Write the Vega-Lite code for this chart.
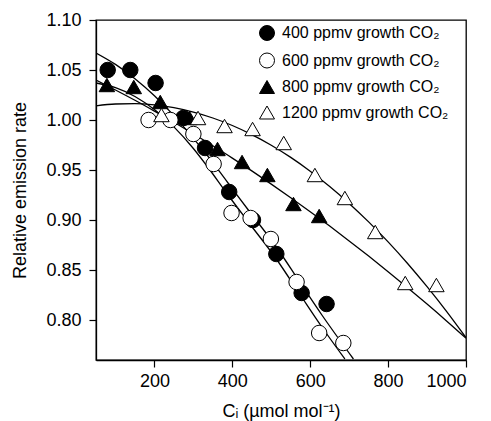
{
  "$schema": "https://vega.github.io/schema/vega-lite/v6.json",
  "width": 370,
  "height": 340,
  "autosize": "none",
  "padding": {"left": 96, "top": 20, "right": 25, "bottom": 61},
  "config": {
    "font": "Liberation Sans",
    "view": {"stroke": "black", "strokeWidth": 1.3},
    "axis": {"grid": false, "domainColor": "black", "domainWidth": 1.3, "tickColor": "black", "tickWidth": 1.2, "tickSize": 7, "labelColor": "black", "titleColor": "black", "labelFontSize": 18, "titleFontSize": 18, "titleFontWeight": "normal"},
    "legend": {"labelColor": "black"}
  },
  "datasets": {
    "points": [
      {"series": "400 ppmv growth CO₂", "ci": 80, "rate": 1.05},
      {"series": "400 ppmv growth CO₂", "ci": 138, "rate": 1.05},
      {"series": "400 ppmv growth CO₂", "ci": 203, "rate": 1.037},
      {"series": "400 ppmv growth CO₂", "ci": 274, "rate": 1.002},
      {"series": "400 ppmv growth CO₂", "ci": 330, "rate": 0.972},
      {"series": "400 ppmv growth CO₂", "ci": 392, "rate": 0.928},
      {"series": "400 ppmv growth CO₂", "ci": 453, "rate": 0.9},
      {"series": "400 ppmv growth CO₂", "ci": 513, "rate": 0.866},
      {"series": "400 ppmv growth CO₂", "ci": 578, "rate": 0.827},
      {"series": "400 ppmv growth CO₂", "ci": 642, "rate": 0.816},
      {"series": "600 ppmv growth CO₂", "ci": 185, "rate": 1.0},
      {"series": "600 ppmv growth CO₂", "ci": 241, "rate": 1.0},
      {"series": "600 ppmv growth CO₂", "ci": 300, "rate": 0.986},
      {"series": "600 ppmv growth CO₂", "ci": 352, "rate": 0.956},
      {"series": "600 ppmv growth CO₂", "ci": 398, "rate": 0.907},
      {"series": "600 ppmv growth CO₂", "ci": 447, "rate": 0.902},
      {"series": "600 ppmv growth CO₂", "ci": 499, "rate": 0.881},
      {"series": "600 ppmv growth CO₂", "ci": 565, "rate": 0.838},
      {"series": "600 ppmv growth CO₂", "ci": 623, "rate": 0.787},
      {"series": "600 ppmv growth CO₂", "ci": 685, "rate": 0.777},
      {"series": "800 ppmv growth CO₂", "ci": 78, "rate": 1.035},
      {"series": "800 ppmv growth CO₂", "ci": 147, "rate": 1.033},
      {"series": "800 ppmv growth CO₂", "ci": 215, "rate": 1.018},
      {"series": "800 ppmv growth CO₂", "ci": 290, "rate": 1.002},
      {"series": "800 ppmv growth CO₂", "ci": 362, "rate": 0.971},
      {"series": "800 ppmv growth CO₂", "ci": 425, "rate": 0.958},
      {"series": "800 ppmv growth CO₂", "ci": 490, "rate": 0.945},
      {"series": "800 ppmv growth CO₂", "ci": 557, "rate": 0.916},
      {"series": "800 ppmv growth CO₂", "ci": 623, "rate": 0.904},
      {"series": "1200 ppmv growth CO₂", "ci": 218, "rate": 1.005},
      {"series": "1200 ppmv growth CO₂", "ci": 312, "rate": 1.002},
      {"series": "1200 ppmv growth CO₂", "ci": 380, "rate": 0.994},
      {"series": "1200 ppmv growth CO₂", "ci": 452, "rate": 0.991},
      {"series": "1200 ppmv growth CO₂", "ci": 532, "rate": 0.977},
      {"series": "1200 ppmv growth CO₂", "ci": 612, "rate": 0.945},
      {"series": "1200 ppmv growth CO₂", "ci": 689, "rate": 0.922},
      {"series": "1200 ppmv growth CO₂", "ci": 767, "rate": 0.888},
      {"series": "1200 ppmv growth CO₂", "ci": 844, "rate": 0.837},
      {"series": "1200 ppmv growth CO₂", "ci": 924, "rate": 0.835}
    ],
    "curves": [
      {"curve": "400", "ci": 50, "rate": 1.067},
      {"curve": "400", "ci": 100, "rate": 1.0556},
      {"curve": "400", "ci": 150, "rate": 1.0413},
      {"curve": "400", "ci": 200, "rate": 1.0243},
      {"curve": "400", "ci": 250, "rate": 1.0044},
      {"curve": "400", "ci": 300, "rate": 0.9817},
      {"curve": "400", "ci": 333, "rate": 0.966},
      {"curve": "400", "ci": 389, "rate": 0.937},
      {"curve": "400", "ci": 445, "rate": 0.908},
      {"curve": "400", "ci": 513, "rate": 0.873},
      {"curve": "400", "ci": 573, "rate": 0.838},
      {"curve": "400", "ci": 630, "rate": 0.805},
      {"curve": "400", "ci": 711, "rate": 0.761},
      {"curve": "600", "ci": 50, "rate": 1.037},
      {"curve": "600", "ci": 100, "rate": 1.0324},
      {"curve": "600", "ci": 150, "rate": 1.0235},
      {"curve": "600", "ci": 200, "rate": 1.0104},
      {"curve": "600", "ci": 250, "rate": 0.9931},
      {"curve": "600", "ci": 300, "rate": 0.9715},
      {"curve": "600", "ci": 333, "rate": 0.955},
      {"curve": "600", "ci": 389, "rate": 0.925},
      {"curve": "600", "ci": 445, "rate": 0.896},
      {"curve": "600", "ci": 513, "rate": 0.861},
      {"curve": "600", "ci": 573, "rate": 0.826},
      {"curve": "600", "ci": 630, "rate": 0.793},
      {"curve": "600", "ci": 689, "rate": 0.761},
      {"curve": "800", "ci": 50, "rate": 1.04},
      {"curve": "800", "ci": 100, "rate": 1.03},
      {"curve": "800", "ci": 150, "rate": 1.0197},
      {"curve": "800", "ci": 200, "rate": 1.0089},
      {"curve": "800", "ci": 250, "rate": 0.9978},
      {"curve": "800", "ci": 300, "rate": 0.9862},
      {"curve": "800", "ci": 350, "rate": 0.9742},
      {"curve": "800", "ci": 400, "rate": 0.9619},
      {"curve": "800", "ci": 450, "rate": 0.9491},
      {"curve": "800", "ci": 500, "rate": 0.9359},
      {"curve": "800", "ci": 550, "rate": 0.9223},
      {"curve": "800", "ci": 600, "rate": 0.9083},
      {"curve": "800", "ci": 650, "rate": 0.8939},
      {"curve": "800", "ci": 700, "rate": 0.8791},
      {"curve": "800", "ci": 750, "rate": 0.8639},
      {"curve": "800", "ci": 800, "rate": 0.8483},
      {"curve": "800", "ci": 850, "rate": 0.8323},
      {"curve": "800", "ci": 900, "rate": 0.8159},
      {"curve": "800", "ci": 950, "rate": 0.7991},
      {"curve": "800", "ci": 1000, "rate": 0.7818},
      {"curve": "1200", "ci": 50, "rate": 1.0142},
      {"curve": "1200", "ci": 100, "rate": 1.016},
      {"curve": "1200", "ci": 150, "rate": 1.0164},
      {"curve": "1200", "ci": 200, "rate": 1.0151},
      {"curve": "1200", "ci": 250, "rate": 1.0123},
      {"curve": "1200", "ci": 300, "rate": 1.0079},
      {"curve": "1200", "ci": 350, "rate": 1.002},
      {"curve": "1200", "ci": 400, "rate": 0.9945},
      {"curve": "1200", "ci": 450, "rate": 0.9854},
      {"curve": "1200", "ci": 500, "rate": 0.9748},
      {"curve": "1200", "ci": 550, "rate": 0.9626},
      {"curve": "1200", "ci": 600, "rate": 0.9488},
      {"curve": "1200", "ci": 650, "rate": 0.9335},
      {"curve": "1200", "ci": 700, "rate": 0.9166},
      {"curve": "1200", "ci": 750, "rate": 0.8981},
      {"curve": "1200", "ci": 800, "rate": 0.8781},
      {"curve": "1200", "ci": 850, "rate": 0.8565},
      {"curve": "1200", "ci": 900, "rate": 0.8333},
      {"curve": "1200", "ci": 950, "rate": 0.8086},
      {"curve": "1200", "ci": 1000, "rate": 0.7823}
    ]
  },
  "layer": [
    {
      "data": {"name": "curves"},
      "mark": {"type": "line", "color": "black", "strokeWidth": 1.3, "interpolate": "monotone", "clip": true},
      "encoding": {
        "x": {"field": "ci", "type": "quantitative", "scale": {"domain": [50, 1000], "nice": false, "zero": false},
          "axis": {"values": [200, 400, 600, 800, 1000], "format": "d", "labelPadding": 5, "title": "Cᵢ (µmol mol⁻¹)", "titleBaseline": "alphabetic", "titleY": 56, "titleX": 185}},
        "y": {"field": "rate", "type": "quantitative", "scale": {"domain": [0.76, 1.1], "nice": false, "zero": false},
          "axis": {"values": [0.8, 0.85, 0.9, 0.95, 1.0, 1.05, 1.1], "format": ".2f", "labelPadding": 8, "title": "Relative emission rate", "titleX": -76, "titleY": 170, "titleAngle": -90, "titleBaseline": "middle", "titleAlign": "center"}},
        "detail": {"field": "curve"}
      }
    },
    {
      "data": {"name": "points"},
      "mark": {"type": "point", "strokeWidth": 1, "size": 240, "opacity": 1, "fillOpacity": 1, "strokeOpacity": 1},
      "encoding": {
        "x": {"field": "ci", "type": "quantitative"},
        "y": {"field": "rate", "type": "quantitative"},
        "shape": {"field": "series", "type": "nominal",
          "scale": {"domain": ["400 ppmv growth CO₂", "600 ppmv growth CO₂", "800 ppmv growth CO₂", "1200 ppmv growth CO₂"], "range": ["circle", "circle", "triangle-up", "triangle-up"]},
          "legend": {"title": null, "orient": "none", "legendX": 163, "legendY": 5, "labelFontSize": 16, "labelColor": "black", "labelLimit": 400, "symbolSize": 225, "symbolStrokeWidth": 1, "rowPadding": 7.5, "labelOffset": 7, "padding": 0}},
        "fill": {"field": "series", "type": "nominal",
          "scale": {"domain": ["400 ppmv growth CO₂", "600 ppmv growth CO₂", "800 ppmv growth CO₂", "1200 ppmv growth CO₂"], "range": ["black", "white", "black", "white"]},
          "legend": {"title": null, "orient": "none", "legendX": 163, "legendY": 5, "labelFontSize": 16, "labelColor": "black", "labelLimit": 400, "symbolSize": 225, "symbolStrokeWidth": 1, "rowPadding": 7.5, "labelOffset": 7, "padding": 0}},
        "stroke": {"field": "series", "type": "nominal",
          "scale": {"domain": ["400 ppmv growth CO₂", "600 ppmv growth CO₂", "800 ppmv growth CO₂", "1200 ppmv growth CO₂"], "range": ["black", "black", "black", "black"]},
          "legend": {"title": null, "orient": "none", "legendX": 163, "legendY": 5, "labelFontSize": 16, "labelColor": "black", "labelLimit": 400, "symbolSize": 225, "symbolStrokeWidth": 1, "rowPadding": 7.5, "labelOffset": 7, "padding": 0}}
      }
    }
  ]
}
